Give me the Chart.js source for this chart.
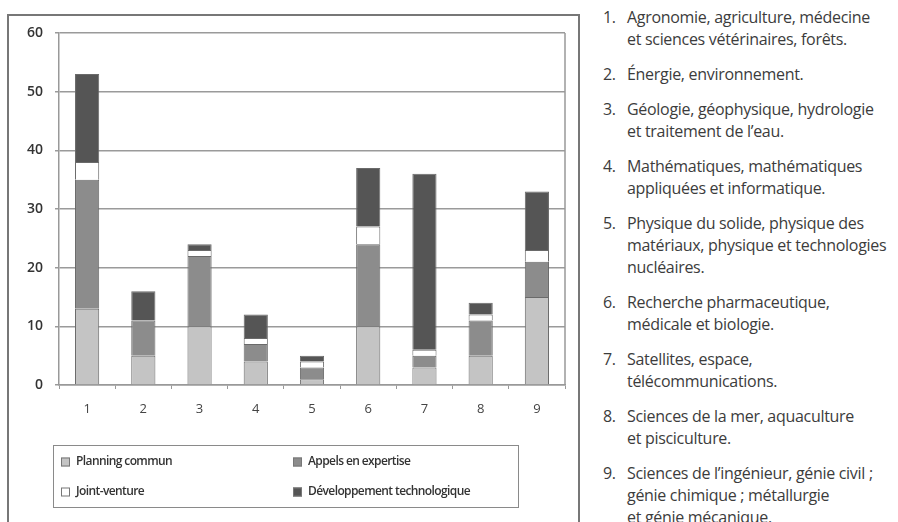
<!DOCTYPE html>
<html>
<head>
<meta charset="utf-8">
<script src="https://cdn.jsdelivr.net/npm/chart.js@4/dist/chart.umd.min.js"></script>
<style>
  body { margin: 0; background: #fff; width: 898px; height: 522px; overflow: hidden; position: relative; font-family: "Open Sans", sans-serif; }
  #wrap { position: absolute; left: 0; top: 0; width: 585px; height: 522px; }
  #domains { position: absolute; left: 600px; top: 6px; width: 298px; margin: 0; padding: 0; list-style: none; color: #3c3c3c; font-size: 16px; line-height: 22px; letter-spacing: -0.3px; }
  #domains li { position: relative; padding-left: 27px; margin-bottom: 13px; white-space: nowrap; }
  #domains li span { position: absolute; left: 3px; }
</style>
</head>
<body>
<div id="wrap"><canvas id="chart"></canvas></div>
<ul id="domains"></ul>
<script>
const categories = ['1', '2', '3', '4', '5', '6', '7', '8', '9'];
const planningCommun = [13, 5, 10, 4, 1, 10, 3, 5, 15];
const appelsExpertise = [22, 6, 12, 3, 2, 14, 2, 6, 6];
const jointVenture = [3, 0, 1, 1, 1, 3, 1, 1, 2];
const devTechno = [15, 5, 1, 4, 1, 10, 30, 2, 10];
const yTicks = [0, 10, 20, 30, 40, 50, 60];

const domaines = [
  'Agronomie, agriculture, médecine<br>et sciences vétérinaires, forêts.',
  'Énergie, environnement.',
  'Géologie, géophysique, hydrologie<br>et traitement de l’eau.',
  'Mathématiques, mathématiques<br>appliquées et informatique.',
  'Physique du solide, physique des<br>matériaux, physique et technologies<br>nucléaires.',
  'Recherche pharmaceutique,<br>médicale et biologie.',
  'Satellites, espace,<br>télécommunications.',
  'Sciences de la mer, aquaculture<br>et pisciculture.',
  'Sciences de l’ingénieur, génie civil ;<br>génie chimique ; métallurgie<br>et génie mécanique.'
];

const list = document.getElementById('domains');
domaines.forEach((txt, i) => {
  const li = document.createElement('li');
  li.innerHTML = '<span>' + categories[i] + '.</span>' + txt;
  list.appendChild(li);
});

// outer frame, right edge of the plot and the boxed 2x2 legend
const boxLegend = {
  id: 'boxLegend',
  beforeDraw(chart) {
    const c = chart.ctx;
    c.save();
    c.strokeStyle = '#777';
    c.lineWidth = 2;
    c.strokeRect(8, 15, 571, 540);
    c.restore();
  },
  afterDraw(chart) {
    const c = chart.ctx;
    const area = chart.chartArea;
    const left = area.left - 6, top = 445, w = 465, h = 62;
    c.save();
    c.strokeStyle = '#8a8a8a';
    c.lineWidth = 1;
    c.strokeRect(left + 0.5, top + 0.5, w, h);
    c.font = '600 12px "Open Sans", sans-serif';
    c.letterSpacing = '-0.6px';
    c.textBaseline = 'middle';
    chart.data.datasets.forEach((ds, k) => {
      const col = k % 2, row = Math.floor(k / 2);
      const x = left + 8 + col * 232;
      const y = top + 17 + row * 30;
      c.fillStyle = ds.backgroundColor;
      c.fillRect(x, y - 4.5, 9, 9);
      c.strokeStyle = '#777';
      c.strokeRect(x + 0.5, y - 4, 8, 8);
      c.fillStyle = '#333';
      c.fillText(ds.label, x + 15, y);
    });
    c.strokeStyle = '#999';
    c.lineWidth = 1.5;
    c.beginPath();
    c.moveTo(area.right, area.top);
    c.lineTo(area.right, area.bottom);
    c.stroke();
    c.restore();
  }
};

const ctx = document.getElementById('chart').getContext('2d');
new Chart(ctx, {
  type: 'bar',
  data: {
    labels: categories,
    datasets: [
      { label: 'Planning commun', data: planningCommun, backgroundColor: '#c4c4c4' },
      { label: 'Appels en expertise', data: appelsExpertise, backgroundColor: '#8c8c8c' },
      { label: 'Joint-venture', data: jointVenture, backgroundColor: '#ffffff' },
      { label: 'Développement technologique', data: devTechno, backgroundColor: '#555555' }
    ]
  },
  options: {
    responsive: true,
    maintainAspectRatio: false,
    animation: false,
    layout: { padding: { left: 0, top: 33, right: 20, bottom: 0 } },
    datasets: {
      bar: { borderColor: '#6a6a6a', borderWidth: 1, barPercentage: 0.43, categoryPercentage: 1 }
    },
    plugins: {
      legend: { display: false },
      tooltip: { enabled: false }
    },
    scales: {
      x: {
        stacked: true,
        afterFit: s => { s.height = 137; },
        grid: { drawOnChartArea: false, drawTicks: true, tickLength: 4, color: '#999' },
        border: { color: '#999', width: 1.5 },
        ticks: { padding: 12, color: '#444', font: { family: 'Open Sans', size: 13 } }
      },
      y: {
        stacked: true,
        min: yTicks[0],
        max: yTicks[yTicks.length - 1],
        afterFit: s => { s.width = 59; },
        afterBuildTicks: s => { s.ticks = yTicks.map(v => ({ value: v })); },
        grid: { color: '#9a9a9a', lineWidth: 1.5, tickLength: 4 },
        border: { color: '#999', width: 1.5 },
        ticks: { padding: 12, color: '#333', font: { family: 'Open Sans', size: 14, weight: '600' } }
      }
    }
  },
  plugins: [boxLegend]
});
</script>
</body>
</html>
